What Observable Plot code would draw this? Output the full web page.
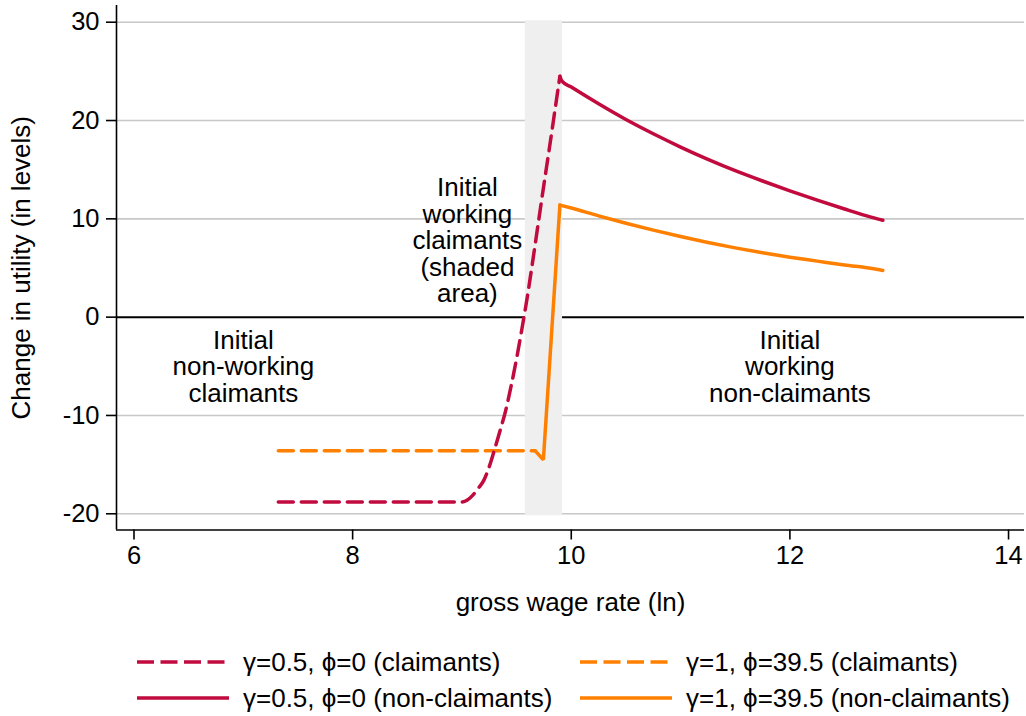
<!DOCTYPE html>
<html>
<head>
<meta charset="utf-8">
<script src="https://cdn.jsdelivr.net/npm/d3@7"></script>
<script src="https://cdn.jsdelivr.net/npm/@observablehq/plot@0.6"></script>
<style>
  body { margin: 0; background: #fff; font-family: "Liberation Sans", Arial, sans-serif; }
  #chart svg { display: block; }
  .legend { position: relative; height: 86px; }
  .legend .item { position: absolute; display: flex; align-items: center; gap: 14px; font-size: 26px; color: #000; white-space: nowrap; height: 36px; }
  .legend svg { display: block; }
</style>
</head>
<body>
<div id="chart"></div>
<div class="legend" id="legend"></div>
<script>
// Axis ticks
const xTicks = [6, 8, 10, 12, 14];
const yTicks = [-20, -10, 0, 10, 20, 30];
const gridTicks = [-20, -10, 10, 20, 30];

// Shaded band: initial working claimants
const bandX = [9.58, 9.92];
const bandY = [-20.2, 30.15];

// γ=0.5, ϕ=0 (claimants) — dashed
const lowClaimX = [7.32, 9.00, 9.05, 9.10, 9.15, 9.20, 9.25, 9.30, 9.35, 9.40, 9.45, 9.50, 9.55, 9.60, 9.65, 9.70, 9.75, 9.80, 9.85, 9.896];
const lowClaimY = [-18.8, -18.8, -18.6, -18.1, -17.4, -16.6, -15.2, -13.4, -11.5, -9.5, -7.0, -4.2, -1.1, 2.2, 5.9, 9.7, 13.5, 17.2, 21.0, 24.5];

// γ=0.5, ϕ=0 (non-claimants) — solid
const lowNonX = [9.896, 9.915, 10.0, 10.25, 10.5, 10.75, 11.0, 11.25, 11.5, 11.75, 12.0, 12.25, 12.5, 12.75, 12.85];
const lowNonY = [24.5, 24.0, 23.4, 21.7, 20.1, 18.65, 17.3, 16.05, 14.9, 13.85, 12.85, 11.9, 11.0, 10.15, 9.85];

// γ=1, ϕ=39.5 (claimants) — dashed
const highClaimX = [7.32, 9.67];
const highClaimY = [-13.6, -13.6];

// γ=1, ϕ=39.5 (non-claimants) — solid
const highNonX = [9.67, 9.745, 9.896, 10.0, 10.25, 10.5, 10.75, 11.0, 11.25, 11.5, 11.75, 12.0, 12.25, 12.5, 12.75, 12.85];
const highNonY = [-13.6, -14.5, 11.4, 11.1, 10.3, 9.55, 8.85, 8.2, 7.6, 7.05, 6.55, 6.1, 5.7, 5.3, 4.95, 4.75];

// Region notes
const noteX = [7.0, 9.05, 12.0];
const noteY = [-5.05, 7.76, -5.05];
const noteText = ["Initial\nnon-working\nclaimants", "Initial\nworking\nclaimants\n(shaded\narea)", "Initial\nworking\nnon-claimants"];

// Series styling for legend
const seriesNames = ["γ=0.5, ϕ=0 (claimants)", "γ=1, ϕ=39.5 (claimants)", "γ=0.5, ϕ=0 (non-claimants)", "γ=1, ϕ=39.5 (non-claimants)"];
const crimson = "#C10A3D";
const orange = "#FF8000";
const seriesColors = [crimson, orange, crimson, orange];
const seriesDashed = [true, true, false, false];

const xDomain = [5.84, 14.146];
const yDomain = [-21.65, 31.7];

const pts = (xs, ys) => xs.map((x, i) => ({x, y: ys[i]}));

// Split the orange non-claimant series at its peak: straight rise, smooth decline
const peakIdx = highNonY.indexOf(Math.max(...highNonY));
const highNonPts = pts(highNonX, highNonY);
const highRise = highNonPts.slice(0, peakIdx + 1);
const highFall = highNonPts.slice(peakIdx);
const lowNonPts = pts(lowNonX, lowNonY);

const plot = Plot.plot({
  width: 1026,
  height: 630,
  marginLeft: 116,
  marginRight: 2,
  marginTop: 5,
  marginBottom: 100.5,
  x: {domain: xDomain},
  y: {domain: yDomain},
  style: {fontFamily: "'Liberation Sans', Arial, sans-serif", fontSize: "25px", color: "#000", background: "#fff", overflow: "visible"},
  marks: [
    Plot.gridY(gridTicks, {stroke: "#c8c8c8", strokeOpacity: 1, strokeWidth: 1.6}),
    Plot.ruleY([0], {stroke: "#000", strokeWidth: 2}),
    Plot.rect([{x1: bandX[0], x2: bandX[1], y1: bandY[0], y2: bandY[1]}], {x1: "x1", x2: "x2", y1: "y1", y2: "y2", fill: "#efefef"}),
    Plot.line(pts(highClaimX, highClaimY), {x: "x", y: "y", stroke: orange, strokeWidth: 3.5, strokeDasharray: "15,8"}),
    Plot.line(pts(lowClaimX, lowClaimY), {x: "x", y: "y", stroke: crimson, strokeWidth: 3.5, strokeDasharray: "15,8", curve: "monotone-x"}),
    Plot.line(highRise, {x: "x", y: "y", stroke: orange, strokeWidth: 3.5, strokeLinejoin: "miter"}),
    Plot.line(highFall, {x: "x", y: "y", stroke: orange, strokeWidth: 3.5, curve: "monotone-x"}),
    Plot.line(lowNonPts, {x: "x", y: "y", stroke: crimson, strokeWidth: 3.5, curve: "monotone-x"}),
    Plot.text(noteText, {x: (d, i) => noteX[i], y: (d, i) => noteY[i], text: d => d, fontSize: 26, lineHeight: 1.02, textAnchor: "middle", lineAnchor: "middle", fill: "#000"}),
    Plot.ruleX([xDomain[0]], {stroke: "#000", strokeWidth: 1.6}),
    Plot.ruleY([yDomain[0]], {stroke: "#000", strokeWidth: 1.6}),
    Plot.axisY(yTicks, {tickSize: 10, tickPadding: 7, label: null, fontSize: 25.5, strokeWidth: 1.6, tickFormat: d => String(d)}),
    Plot.axisX(xTicks, {tickSize: 10, tickPadding: 6, label: null, fontSize: 25.5, strokeWidth: 1.6, tickFormat: d => String(d)}),
    Plot.text(["Change in utility (in levels)"], {frameAnchor: "left", dx: -94.7, rotate: -90, fontSize: 26, textAnchor: "middle", lineAnchor: "middle", fill: "#000"}),
    Plot.text(["gross wage rate (ln)"], {frameAnchor: "bottom", dy: 73, fontSize: 26, textAnchor: "middle", lineAnchor: "middle", fill: "#000"})
  ]
});
document.getElementById("chart").appendChild(plot);

// Legend: two columns, two rows
const legend = document.getElementById("legend");
const colLeft = [137, 580];
const rowCenter = [32, 68.3];
seriesNames.forEach((name, i) => {
  const item = document.createElement("div");
  item.className = "item";
  item.style.left = colLeft[i % 2] + "px";
  item.style.top = (rowCenter[Math.floor(i / 2)] - 18) + "px";
  const ns = "http://www.w3.org/2000/svg";
  const sw = document.createElementNS(ns, "svg");
  sw.setAttribute("width", 92);
  sw.setAttribute("height", 10);
  const ln = document.createElementNS(ns, "line");
  ln.setAttribute("x1", 0); ln.setAttribute("x2", 92);
  ln.setAttribute("y1", 5); ln.setAttribute("y2", 5);
  ln.setAttribute("stroke", seriesColors[i]);
  ln.setAttribute("stroke-width", 3.6);
  if (seriesDashed[i]) ln.setAttribute("stroke-dasharray", "17,6.5");
  sw.appendChild(ln);
  const label = document.createElement("span");
  label.textContent = name;
  item.appendChild(sw);
  item.appendChild(label);
  legend.appendChild(item);
});
</script>
</body>
</html>
